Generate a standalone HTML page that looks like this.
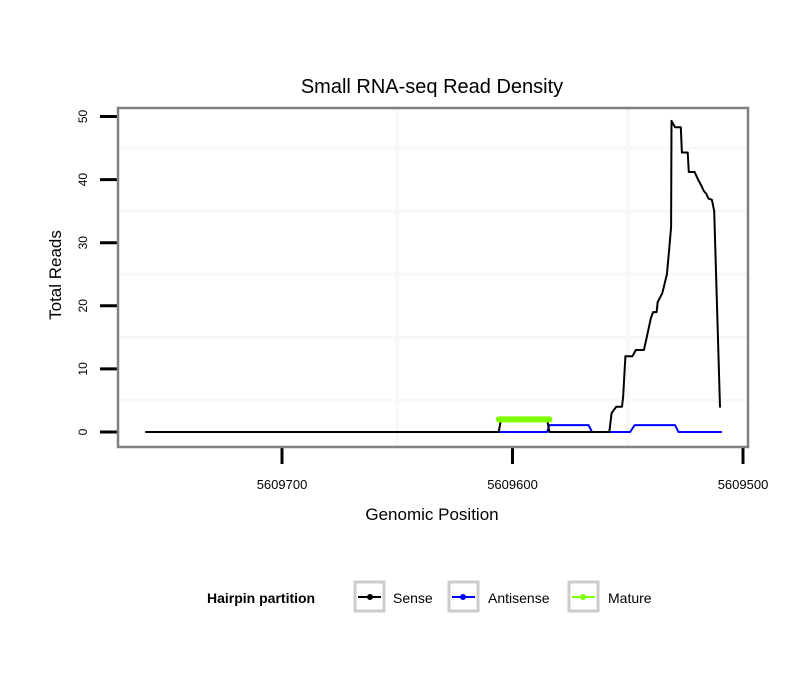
<!DOCTYPE html>
<html><head><meta charset="utf-8"><style>
body{margin:0;background:#fff;font-family:"Liberation Sans",sans-serif}
</style></head><body>
<svg id="chart" width="810" height="690" xmlns="http://www.w3.org/2000/svg" font-family="Liberation Sans, sans-serif">
<rect width="810" height="690" fill="#fff"/>
<text x="432" y="93" font-size="20" text-anchor="middle">Small RNA-seq Read Density</text>
<g id="grid"></g>
<g id="axes"></g>
<g id="series"></g>
<rect x="118" y="108" width="630" height="339" fill="none" stroke="#808080" stroke-width="2.5"/>
<text x="432" y="520" font-size="17" text-anchor="middle">Genomic Position</text>
<text transform="translate(61,275) rotate(-90)" font-size="17" text-anchor="middle">Total Reads</text>
<g>
<text x="207" y="603" font-size="14" font-weight="bold">Hairpin partition</text>
<g>
<rect x="355" y="582" width="29" height="29" fill="#fff" stroke="#cccccc" stroke-width="3"/>
<line x1="358" y1="597" x2="381" y2="597" stroke="#000" stroke-width="2"/><circle cx="370" cy="597" r="3" fill="#000"/>
<text x="393" y="603" font-size="14">Sense</text></g>
<g>
<rect x="449" y="582" width="29" height="29" fill="#fff" stroke="#cccccc" stroke-width="3"/>
<line x1="452" y1="597" x2="475" y2="597" stroke="#0000ff" stroke-width="2"/><circle cx="463" cy="597" r="3" fill="#0000ff"/>
<text x="488" y="603" font-size="14">Antisense</text></g>
<g>
<rect x="569" y="582" width="29" height="29" fill="#fff" stroke="#cccccc" stroke-width="3"/>
<line x1="572" y1="597" x2="595" y2="597" stroke="#7fff00" stroke-width="2"/><circle cx="583" cy="597" r="3" fill="#7fff00"/>
<text x="608" y="603" font-size="14">Mature</text></g>
</g>
</svg>
<script>
const xTicks=[5609700,5609600,5609500];
const yTicks=[0,10,20,30,40,50];
const senseX=[5609759,5609606,5609605,5609585,5609584,5609558,5609557,5609555,5609552.5,5609552,5609551,5609548,5609546.5,5609543,5609542,5609540,5609539,5609537.5,5609537,5609535,5609534,5609533,5609532,5609531.2,5609531,5609529.5,5609527,5609526.5,5609524,5609523.5,5609521,5609519.5,5609518,5609517,5609516,5609515,5609513.5,5609512.5,5609510];
const senseY=[0,0,2,2,0,0,3,4,4,5.5,12,12,13,13,14.6,18,19,19,20.6,22,23.5,25,29,32.5,49.3,48.3,48.3,44.3,44.3,41.2,41.2,40,39,38.2,37.8,37,36.8,35,4];
const antiX=[5609606,5609585,5609584,5609567,5609565.5,5609549,5609547,5609529.5,5609528,5609509.5];
const antiY=[0,0,1.1,1.1,0,0,1.1,1.1,0,0];
const matureX=[5609606,5609584];
const matureY=[2,2];
const NS='http://www.w3.org/2000/svg';
function sx(v){return 282+(5609700-v)*2.305;}
function sy(v){return 432-v*6.31;}
function mk(tag,attrs,parent){const e=document.createElementNS(NS,tag);for(const k in attrs)e.setAttribute(k,attrs[k]);parent.appendChild(e);return e;}
const grid=document.getElementById('grid'),axes=document.getElementById('axes'),series=document.getElementById('series');
[5,15,25,35,45].forEach(v=>{const y=sy(v);
 const g=mk('line',{x1:119,x2:747,y1:y,y2:y,stroke:'#f8f8f8','stroke-width':3},grid);
 
 });
[5609650,5609550].forEach(v=>{const x=sx(v);
 const g=mk('line',{x1:x,x2:x,y1:109,y2:446,stroke:'#f8f8f8','stroke-width':4},grid);
 
 });
yTicks.forEach(v=>{const y=sy(v);
 const t=mk('line',{x1:100,x2:117,y1:y,y2:y,stroke:'#000','stroke-width':3},axes);
 
 
 const l=mk('text',{transform:`translate(87,${y}) rotate(-90)`,'font-size':12,'text-anchor':'middle'},axes);l.textContent=v;
 
 });
xTicks.forEach(v=>{const x=sx(v);
 const t=mk('line',{x1:x,x2:x,y1:448,y2:464,stroke:'#000','stroke-width':3},axes);
 
 
 const l=mk('text',{x:x,y:489,'font-size':13,'text-anchor':'middle'},axes);l.textContent=v;
 
 });
function line(xs,ys,color,w,name){const d=xs.map((x,i)=>(i?'L':'M')+sx(x).toFixed(1)+','+sy(ys[i]).toFixed(1)).join('');
 const p=mk('path',{d:d,fill:'none',stroke:color,'stroke-width':w,'stroke-linejoin':'round','stroke-linecap':'round'},series);
 
 }
line(antiX,antiY,'#0000ff',2,'antisense-line');
line(senseX,senseY,'#000',2,'sense-line');
line(matureX,matureY,'#7fff00',6,'mature-line');
</script>
</body></html>
